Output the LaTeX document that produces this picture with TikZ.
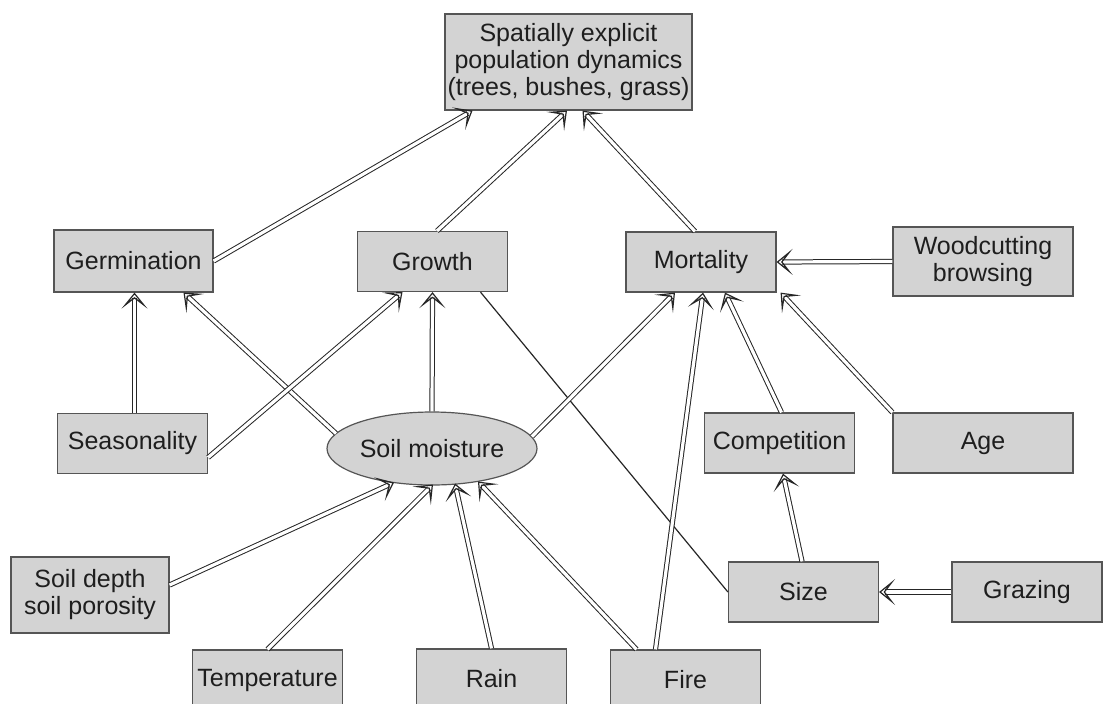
\documentclass[tikz,border=0pt]{standalone}
\usepackage{fontspec}
\setmainfont{Liberation Sans}
\usetikzlibrary{shapes.geometric,arrows.meta,calc}
\begin{document}
\begin{tikzpicture}[x=0.5pt,y=-0.5pt]
  % Colores
  \definecolor{boxfill}{RGB}{211,211,211}
  \definecolor{boxborder}{RGB}{85,85,85}
  \definecolor{textgray}{RGB}{30,30,30}

  % Estilos
  \tikzset{
    factor/.style={fill=boxfill, draw=boxborder, line width=0.6pt, text=textgray, font=\fontsize{12.5}{13.5}\selectfont, minimum width=75pt, minimum height=30pt, inner sep=0pt, align=center},
    moisture/.style={ellipse, fill=boxfill, draw=boxborder, line width=0.6pt, text=textgray, font=\fontsize{12.5}{13.5}\selectfont, minimum width=105pt, minimum height=36.5pt, inner sep=0pt},
    influence/.style={draw=black!85, double=white, double distance=1.6pt, line width=0.5pt,
      -{Stealth[open, length=8pt, width=13pt, inset=5pt, line width=0.6pt]}},
    plainlink/.style={draw=black!85, line width=0.6pt}
  }

  % Marco
  \useasboundingbox (0,0) rectangle (1110,703);
  \fill[white] (0,0) rectangle (1110,703);
  \clip (0,0) rectangle (1110,703);

  % Resultado
  \node[factor, minimum width=123.5pt, minimum height=48pt] (dyn) at (568.5,62) {Spatially explicit\\population dynamics\\(trees, bushes, grass)};

  % Procesos
  \node[factor, minimum width=79.5pt, minimum height=31pt] (germ) at (133.5,261) {Germination};
  \node[factor] (growth) at (432.5,261.5) {Growth};
  \node[factor] (mort) at (701,262) {Mortality};
  \node[factor, minimum width=90pt, minimum height=34.5pt] (wood) at (983,261.5) {Woodcutting\\browsing};

  % Factores intermedios
  \node[factor] (seas) at (132.5,443.5) {Seasonality};
  \node[moisture] (soil) at (432,448.5) {Soil moisture};
  \node[factor] (comp) at (779.5,443) {Competition};
  \node[factor, minimum width=90pt] (age) at (983,443) {Age};

  % Factores externos
  \node[factor, minimum width=79pt, minimum height=38pt] (depth) at (90,595) {Soil depth\\soil porosity};
  \node[factor] (size) at (803.5,592) {Size};
  \node[factor] (graz) at (1027,592) {Grazing};
  \node[factor] (temp) at (267.5,680) {Temperature};
  \node[factor] (rain) at (491.5,679) {Rain};
  \node[factor] (fire) at (685.5,680) {Fire};

  % Hacia la dinamica
  \draw[influence] (germ.east) -- ($(dyn.south)+(-96,0)$);
  \draw[influence] ($(growth.north)+(4.5,0)$) -- ($(dyn.south)+(-1.5,0)$);
  \draw[influence] ($(mort.north)+(-6,0)$) -- ($(dyn.south)+(14,0)$);

  % Hacia germinacion y crecimiento
  \draw[influence] ($(seas.north)+(2,0)$) -- ($(germ.south)+(1,0)$);
  \draw[influence] ($(soil.center)+(-96,-15)$) -- ($(germ.south)+(50,0)$);
  \draw[influence] ($(seas.east)+(0,14)$) -- ($(growth.south)+(-30,0)$);
  \draw[influence] (soil.north) -- (growth.south);
  \draw[plainlink] ($(growth.south)+(48,0)$) -- (size.west);

  % Hacia mortalidad
  \draw[influence] (wood.west) -- (mort.east);
  \draw[influence] ($(soil.center)+(100,-12)$) -- ($(mort.south)+(-26,0)$);
  \draw[influence] ($(fire.north)+(-30,0)$) -- ($(mort.south)+(2,0)$);
  \draw[influence] ($(comp.north)+(2,0)$) -- ($(mort.south)+(24,0)$);
  \draw[influence] (age.north west) -- ($(mort.south east)+(4,0)$);

  % Tamano y competencia
  \draw[influence] ($(size.north)+(-1.5,0)$) -- ($(comp.south)+(3.5,0)$);
  \draw[influence] (graz.west) -- (size.east);

  % Hacia humedad del suelo
  \draw[influence] ($(depth.east)+(0,-10)$) -- ($(soil.center)+(-38,34)$);
  \draw[influence] (temp.north) -- ($(soil.center)+(1,36)$);
  \draw[influence] (rain.north) -- ($(soil.center)+(23,35)$);
  \draw[influence] ($(fire.north)+(-49,0)$) -- ($(soil.center)+(46,33)$);
\end{tikzpicture}
\end{document}
